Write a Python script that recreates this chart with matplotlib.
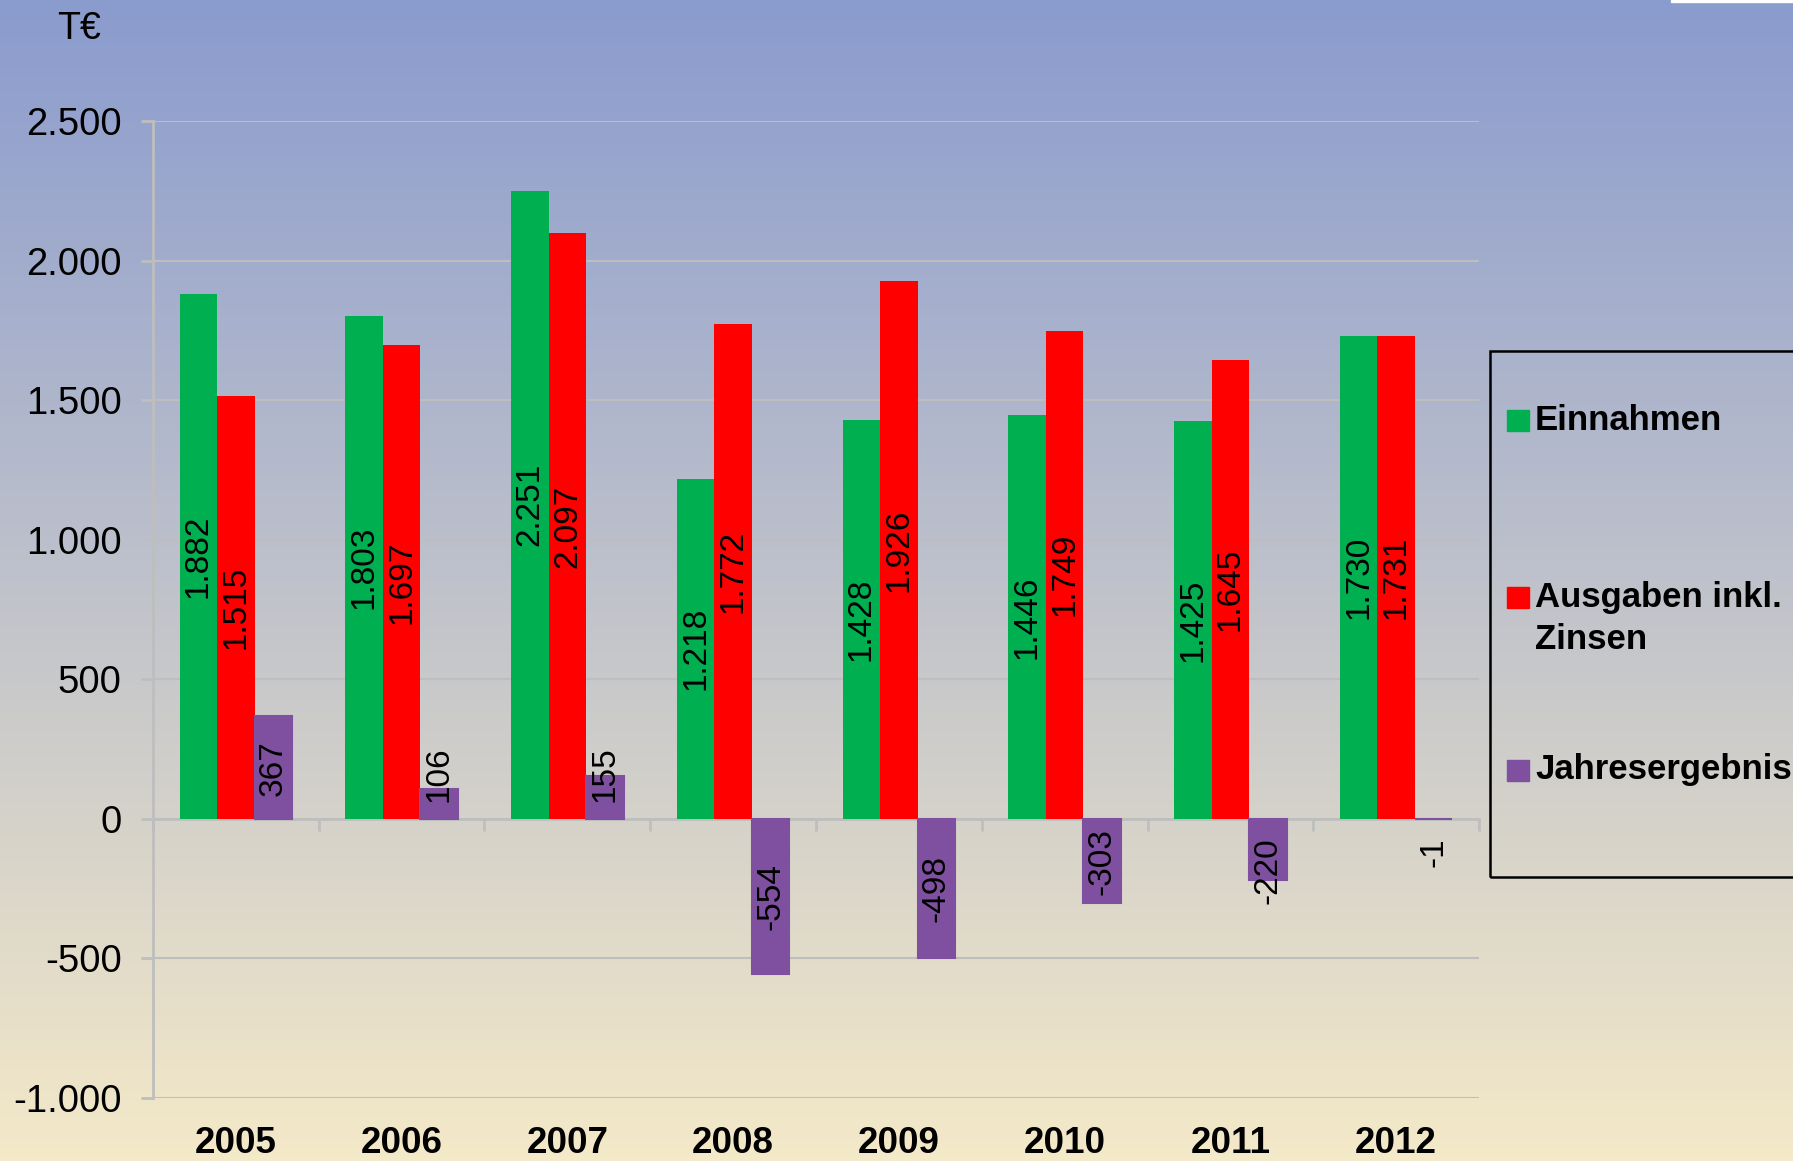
import numpy as np
import matplotlib.pyplot as plt
from matplotlib.patches import Rectangle
from matplotlib.ticker import FuncFormatter

plt.rcParams['font.family'] = ['Liberation Sans', 'DejaVu Sans']

years = ['2005', '2006', '2007', '2008', '2009', '2010', '2011', '2012']
einnahmen = [1882, 1803, 2251, 1218, 1428, 1446, 1425, 1730]
ausgaben = [1515, 1697, 2097, 1772, 1926, 1749, 1645, 1731]
ergebnis = [367, 106, 155, -554, -498, -303, -220, -1]
series_names = ['Einnahmen', 'Ausgaben inkl.\nZinsen', 'Jahresergebnis']
series_colors = ['#00B050', '#FF0000', '#7F509F']
unit_label = 'T€'

W, H = 1793, 1161
fig = plt.figure(figsize=(W / 100, H / 100), dpi=100)


def fx(px):
    return px / W


def fy(py):
    return 1 - py / H


def de(v):
    return f'{int(v):,}'.replace(',', '.')


# background gradient (blue top -> cream bottom)
bg = fig.add_axes([0, 0, 1, 1], zorder=-10)
top = np.array([138, 155, 206]) / 255
bot = np.array([244, 233, 200]) / 255
t = np.linspace(0, 1, 256)[:, None]
grad = top[None, :] * (1 - t) + bot[None, :] * t
bg.imshow(grad[:, None, :], aspect='auto', extent=[0, 1, 0, 1])
bg.axis('off')
fig.patches.append(Rectangle((fx(1671), fy(2)), fx(122), 2 / H, transform=fig.transFigure,
                             color='white', zorder=5))

ax = fig.add_axes([fx(153), fy(1098), fx(1479 - 153), (1098 - 121) / H])
ax.patch.set_alpha(0)

grey = '#BEBEBE'
x = np.arange(len(years))
bw = 0.226
offsets = [-bw, 0, bw]
series = [einnahmen, ausgaben, ergebnis]

for k, (vals, off, col) in enumerate(zip(series, offsets, series_colors)):
    xs = x + off
    # last series gets a thin edge so the -1 bar stays visible
    ax.bar(xs, vals, width=bw, color=col, zorder=3,
           edgecolor=col, lw=1.5 if k == 2 else 0)
    for xi, v in zip(xs, vals):
        if abs(v) >= 300:
            ax.text(xi, v / 2, de(v), rotation=90, ha='center', va='center',
                    fontsize=24, zorder=4)
        else:
            ax.annotate(de(v), (xi, 0), xytext=(0, 12 if v > 0 else -13),
                        textcoords='offset points', rotation=90, ha='center',
                        va='bottom' if v > 0 else 'top', fontsize=24, zorder=4)

ax.set_xlim(-0.5, len(years) - 0.5)
ax.set_ylim(-1000, 2500)
ax.set_yticks(np.arange(-1000, 2501, 500))
ax.yaxis.set_major_formatter(FuncFormatter(lambda v, p: de(v)))
ax.grid(axis='y', color=grey, lw=1.5)
ax.set_axisbelow(True)

for s in ['top', 'right']:
    ax.spines[s].set_visible(False)
ax.spines['left'].set_color(grey)
ax.spines['left'].set_linewidth(2)
ax.spines['bottom'].set_position(('data', 0))
ax.spines['bottom'].set_color(grey)
ax.spines['bottom'].set_linewidth(2)
ax.spines['bottom'].set_zorder(2)

ax.set_xticks(np.arange(-0.5, len(years), 1))
ax.tick_params(axis='x', direction='out', length=8.6, width=2, color=grey,
               labelbottom=False)
ax.tick_params(axis='y', direction='out', length=8.6, width=2, color=grey,
               labelsize=27.5, pad=14)

sec = ax.secondary_xaxis('bottom')
sec.set_xticks(x, years)
sec.tick_params(length=0, pad=20, labelsize=26.5)
for lbl in sec.get_xticklabels():
    lbl.set_fontweight('bold')
sec.spines['bottom'].set_visible(False)

fig.text(fx(79), fy(29), unit_label, ha='center', va='center', fontsize=27)

# legend box
fig.patches.append(Rectangle((fx(1490), fy(877)), fx(320), (877 - 351) / H,
                             transform=fig.transFigure, fill=False,
                             edgecolor='black', lw=1.8, zorder=5))
leg_y = [420, 597, 770]
for name, col, yy in zip(series_names, series_colors, leg_y):
    fig.patches.append(Rectangle((fx(1507), fy(yy + 10.5)), fx(22), 21 / H,
                                 transform=fig.transFigure, color=col, zorder=6))
    if '\n' in name:
        fig.text(fx(1535), fy(yy - 16), name, ha='left', va='top', fontsize=25,
                 fontweight='bold', linespacing=1.33)
    else:
        fig.text(fx(1535), fy(yy), name, ha='left', va='center', fontsize=25,
                 fontweight='bold')

fig.savefig('out.png', dpi=100)
